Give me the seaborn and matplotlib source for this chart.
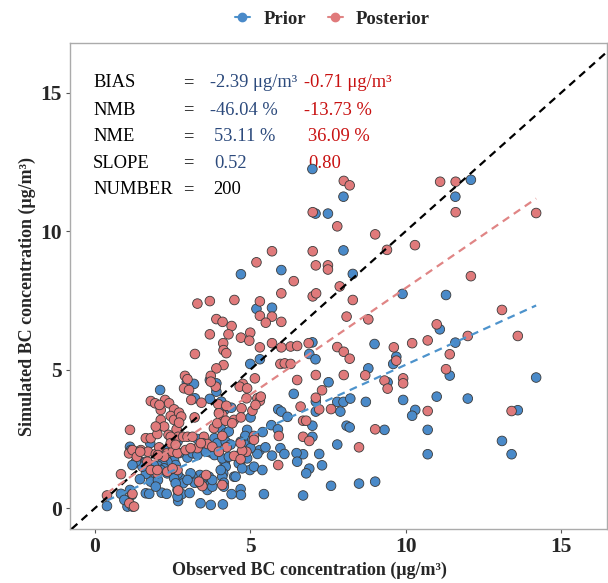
import numpy as np
import pandas as pd
import matplotlib
matplotlib.use("Agg")
import matplotlib.pyplot as plt
import seaborn as sns
from matplotlib.lines import Line2D

# observed vs simulated BC, prior run
prior_obs = [7.0, 8.0, 7.1, 7.5, 8.0, 6.0, 4.7, 8.3, 5.2, 5.7,
             7.0, 12.1, 11.6, 9.9, 11.3, 11.1, 11.6, 9.0, 6.9, 7.1,
             7.52, 7.11, 7.11, 7.8, 8.0, 8.22, 7.9, 8.8, 8.72, 9.7,
             9.6, 9.42, 9.92, 10.31, 10.21, 11.0, 12.0, 11.42, 14.2, 13.61,
             13.1, 13.41, 10.71, 10.71, 9.32, 7.8, 8.1, 8.2, 9.02, 8.5,
             7.6, 7.31, 6.9, 6.8, 7.22, 6.7, 6.7, 7.0, 7.0, 5.0,
             5.31, 6.4, 3.7, 2.96, 3.91, 2.1, 3.22, 3.7, 4.19, 4.0,
             4.39, 5.01, 5.9, 6.0, 5.68, 5.89, 4.9, 4.84, 4.69, 4.9,
             5.07, 5.31, 5.49, 5.23, 4.58, 4.74, 4.9, 4.18, 4.21, 4.13,
             4.48, 4.69, 4.7, 4.99, 5.12, 5.39, 5.44, 4.4, 4.12, 3.73,
             3.4, 2.68, 2.8, 2.15, 2.31, 1.64, 1.75, 1.13, 1.19, 1.05,
             1.21, 0.39, 0.84, 1.13, 1.4, 1.75, 3.85, 3.94, 4.21, 4.05,
             3.62, 3.73, 3.85, 2.98, 3.14, 3.3, 2.71, 2.55, 2.6, 2.33,
             2.17, 2.03, 2.44, 2.33, 2.23, 1.89, 1.8, 1.96, 1.8, 1.64,
             1.64, 1.53, 1.32, 1.21, 3.38, 3.49, 3.73, 3.62, 3.78, 3.14,
             3.21, 3.4, 2.76, 2.84, 4.1, 4.15, 4.53, 2.66, 2.55, 6.49,
             6.51, 5.97, 6.1, 3.91, 1.16, 1.32, 1.78, 2.12, 2.03, 1.96,
             2.66, 3.19, 4.15, 4.07, 2.66, 4.21, 4.31, 4.37, 3.57, 4.1,
             4.31, 5.01, 4.63, 4.74, 4.15, 4.05, 3.67, 3.78, 3.08, 2.98,
             2.66, 2.6, 5.4, 6.2, 2.4, 3.3, 1.45, 0.95, 3.05, 5.7]
prior_sim = [12.25, 11.25, 10.64, 10.64, 9.31, 8.6, 8.45, 8.46, 7.2, 7.24,
             5.99, 11.86, 11.25, 7.74, 7.7, 6.46, 5.98, 5.93, 5.57, 5.38,
             4.55, 3.85, 3.49, 3.84, 3.84, 3.96, 3.49, 5.05, 3.84, 5.47,
             5.21, 4.55, 3.91, 3.55, 3.34, 4.03, 3.96, 4.79, 4.72, 3.54,
             2.43, 1.95, 2.83, 1.95, 2.83, 2.3, 2.98, 2.92, 0.96, 0.89,
             0.81, 1.55, 1.43, 1.26, 1.96, 1.95, 0.46, 2.98, 2.58, 5.21,
             5.38, 4.13, 4.63, 4.55, 4.21, 4.27, 3.97, 3.95, 3.57, 3.45,
             3.63, 3.28, 3.57, 3.49, 3.0, 2.85, 2.83, 2.61, 2.4, 2.29,
             2.49, 2.1, 2.2, 1.96, 1.89, 1.77, 1.8, 1.62, 1.5, 1.26,
             1.14, 0.69, 0.48, 1.38, 1.5, 1.38, 0.51, 0.51, 0.14, 0.12,
             0.18, 0.26, 0.51, 0.56, 0.52, 0.54, 0.52, 0.66, 0.48, 0.06,
             0.06, 0.08, 0.52, 2.22, 1.74, 2.47, 2.53, 2.35, 2.4, 2.89,
             2.1, 2.01, 1.92, 1.83, 1.99, 1.92, 1.99, 1.72, 1.56, 1.68,
             1.62, 1.53, 1.38, 1.26, 1.44, 1.56, 1.38, 1.14, 0.96, 1.24,
             1.68, 1.5, 1.68, 1.56, 1.2, 1.08, 0.9, 0.66, 0.78, 1.14,
             0.92, 0.88, 1.08, 0.9, 1.14, 0.92, 1.14, 1.24, 1.08, 1.99,
             1.68, 2.17, 1.96, 4.51, 2.1, 2.04, 2.35, 1.38, 1.02, 0.78,
             0.42, 4.49, 3.67, 3.85, 2.4, 2.71, 2.77, 2.3, 2.04, 1.8,
             1.86, 2.17, 1.62, 1.44, 0.78, 1.38, 1.14, 1.02, 1.26, 1.02,
             0.66, 0.9, 2.75, 3.3, 2.2, 2.5, 1.05, 0.3, 0.55, 1.9]

# observed vs simulated BC, posterior run
post_obs = [8.01, 8.2, 7.01, 7.8, 5.7, 7.01, 5.2, 7.11, 7.5, 7.5,
            6.4, 7.88, 3.3, 3.7, 4.49, 5.31, 6.0, 7.01, 7.12, 8.3,
            5.31, 5.7, 5.5, 6.0, 8.1, 3.91, 4.11, 4.4, 3.7, 4.3,
            4.7, 5.0, 4.97, 4.13, 5.7, 6.3, 6.51, 6.88, 7.8, 11.11,
            11.61, 11.61, 14.2, 9.02, 10.3, 9.4, 12.1, 8.8, 11.0, 13.1,
            13.61, 12.0, 10.71, 10.21, 9.62, 8.01, 8.2, 7.11, 8.01, 7.31,
            7.11, 7.22, 7.6, 8.7, 9.7, 9.32, 9.42, 9.92, 9.92, 10.71,
            11.42, 11.3, 13.41, 9.02, 8.5, 6.7, 6.9, 6.7, 6.8, 4.14,
            4.23, 5.31, 6.0, 3.22, 5.97, 6.11, 6.3, 4.14, 3.91, 6.51,
            5.15, 4.76, 4.66, 3.73, 2.9, 2.98, 3.89, 1.8, 1.94, 2.26,
            2.39, 2.55, 3.1, 3.43, 3.97, 4.23, 4.72, 5.07, 4.88, 5.23,
            5.31, 5.34, 4.48, 4.7, 4.1, 5.92, 5.12, 4.88, 4.74, 4.48,
            2.68, 1.21, 1.11, 0.39, 0.84, 1.13, 1.1, 1.21, 1.35, 1.48,
            1.64, 1.8, 1.71, 1.96, 2.07, 2.01, 2.12, 2.23, 2.37, 2.44,
            2.55, 2.63, 2.68, 2.84, 2.98, 3.14, 3.21, 3.51, 3.47, 4.1,
            4.24, 3.83, 3.62, 3.78, 3.3, 3.41, 2.33, 2.23, 2.03, 2.01,
            2.71, 2.78, 2.12, 2.08, 6.62, 5.9, 3.58, 4.1, 1.96,
            2.71, 1.46, 2.5, 2.66, 1.69, 1.8, 2.01, 2.33, 1.26, 2.87,
            3.03, 3.73, 4.9, 3.99, 3.94, 4.21, 4.42, 5.17, 2.44, 2.44,
            2.6, 2.92, 3.08, 3.99, 4.69, 5.12, 4.69, 3.46, 3.35, 2.66, 2.5]
post_sim = [11.82, 11.66, 10.69, 10.18, 9.28, 9.28, 8.88, 8.77, 8.77, 8.62,
            8.2, 8.01, 7.39, 7.48, 7.52, 7.47, 7.76, 7.65, 7.76, 7.52,
            6.95, 6.92, 6.7, 6.73, 6.92, 6.83, 6.73, 6.58, 6.28, 6.28,
            6.16, 6.34, 6.05, 5.96, 5.96, 5.84, 5.86, 5.96, 5.82, 11.79,
            11.79, 10.69, 10.66, 9.89, 9.5, 9.33, 8.38, 6.82, 6.64, 7.16,
            6.22, 6.22, 6.06, 5.96, 5.81, 5.65, 5.4, 4.81, 4.81, 4.26,
            3.99, 3.57, 3.58, 4.8, 5.33, 4.61, 4.32, 4.69, 4.51, 3.51,
            5.56, 5.02, 3.51, 2.85, 2.2, 2.58, 2.43, 3.16, 3.16, 5.71,
            5.6, 5.81, 5.81, 5.57, 5.21, 5.23, 5.21, 5.17, 5.05, 4.63,
            4.69, 4.49, 4.39, 4.78, 4.78, 4.66, 4.39, 3.87, 3.79, 3.91,
            3.79, 3.57, 3.91, 3.81, 3.76, 3.7, 3.61, 3.52, 3.97, 3.97,
            3.88, 4.03, 3.19, 3.28, 3.37, 2.61, 2.61, 2.04, 2.08, 1.89,
            0.64, 0.52, 0.18, 0.46, 1.23, 2.83, 1.98, 2.1, 1.86, 2.1,
            2.53, 2.53, 2.04, 1.96, 2.2, 2.68, 3.19, 2.95, 2.65, 3.33,
            3.19, 2.85, 2.58, 2.58, 2.58, 2.58, 3.28, 2.58, 2.35, 2.61,
            2.2, 2.89, 2.32, 2.22, 2.17, 2.35, 1.99, 1.86, 1.92, 1.26,
            3.45, 3.31, 3.55, 3.73, 3.67, 1.56, 1.2, 0.84, 2.95,
            3.09, 2.04, 2.04, 1.99, 1.68, 1.38, 1.38, 1.32, 0.06, 4.33,
            4.27, 4.57, 4.33, 3.43, 3.07, 3.16, 3.07, 3.73, 2.58, 2.35,
            2.29, 2.1, 2.17, 2.04, 2.35, 2.47, 1.77, 0.8, 0.96, 1.38, 1.44]

assert len(prior_obs) == len(prior_sim)
assert len(post_obs) == len(post_sim)

# fitted lines as drawn in the figure
fit_slope = {"Prior": 0.51, "Posterior": 0.77}
fit_icpt = {"Prior": 0.08, "Posterior": 0.25}

stat_names = ["BIAS", "NMB", "NME", "SLOPE", "NUMBER"]
prior_stats = ["-2.39 μg/m³", "-46.04 %", "53.11 %", "0.52", "200"]
post_stats = ["-0.71 μg/m³", "-13.73 %", "36.09 %", "0.80", ""]

pt_colors = {"Prior": "#4a8ac9", "Posterior": "#e07a7b"}
ln_colors = {"Prior": "#4d93cc", "Posterior": "#e08585"}
txt_colors = {"Prior": "#2c4a7c", "Posterior": "#c81010"}

sns.set_theme(style="white")
plt.rcParams["font.family"] = ["Liberation Serif", "DejaVu Serif"]

df = pd.DataFrame({
    "obs": prior_obs + post_obs,
    "sim": prior_sim + post_sim,
    "run": ["Prior"] * len(prior_obs) + ["Posterior"] * len(post_obs),
})

fig = plt.figure(figsize=(6.08, 5.83), dpi=100)
ax = fig.add_axes([70 / 608, 1 - 529 / 583, 537 / 608, 486 / 583])

sns.scatterplot(data=df, x="obs", y="sim", hue="run", palette=pt_colors,
                s=48, edgecolor="#3a3a3a", linewidth=0.6, legend=False,
                ax=ax, zorder=3)

# 1:1 line
ax.axline((0, 0), slope=1, color="black", lw=1.6, ls=(0, (3.5, 2.5)), zorder=4)

# regression lines
for run, xs in [("Prior", prior_obs), ("Posterior", post_obs)]:
    xx = np.array([min(xs), max(xs)])
    ax.plot(xx, fit_icpt[run] + fit_slope[run] * xx, color=ln_colors[run],
            lw=1.6, ls=(0, (3.5, 2.5)), zorder=4)

ax.set_xlim(-0.8, 16.48)
ax.set_ylim(-0.75, 16.8)
ax.set_xticks([0, 5, 10, 15])
ax.set_yticks([0, 5, 10, 15])
ax.tick_params(axis="both", which="major", length=3, width=0.8, color="#555555",
               labelsize=15.5, pad=3, bottom=True, left=True)
for lab in ax.get_xticklabels() + ax.get_yticklabels():
    lab.set_fontweight("bold")
for sp in ax.spines.values():
    sp.set_color("#ababab")
    sp.set_linewidth(1.0)

ax.set_xlabel("Observed BC concentration (μg/m³)", fontsize=13, fontweight="bold")
ax.xaxis.set_label_coords(0.445, -0.068)
ax.set_ylabel("Simulated BC concentration (μg/m³)", fontsize=13, fontweight="bold")
ax.yaxis.set_label_coords(-0.063, 0.479)

# statistics block
row_y = [0.918, 0.862, 0.807, 0.753, 0.698]
prior_x = [0.261, 0.261, 0.268, 0.268, 0.266]
post_x = [0.436, 0.436, 0.443, 0.443, 0.443]
for i, name in enumerate(stat_names):
    ax.text(0.043, row_y[i], name, transform=ax.transAxes, fontsize=13.3,
            va="center", ha="left", color="black", zorder=2)
    ax.text(0.210, row_y[i], "=", transform=ax.transAxes, fontsize=13.3,
            va="center", ha="left", color="black", zorder=2)
    ax.text(prior_x[i], row_y[i], prior_stats[i], transform=ax.transAxes, fontsize=13.3,
            va="center", ha="left",
            color=txt_colors["Prior"] if name != "NUMBER" else "black", zorder=2)
    ax.text(post_x[i], row_y[i], post_stats[i], transform=ax.transAxes, fontsize=13.3,
            va="center", ha="left", color=txt_colors["Posterior"], zorder=2)

handles = [Line2D([0], [0], color=ln_colors[r], lw=1.5, marker="o", markersize=6,
                  markerfacecolor=pt_colors[r], markeredgecolor=pt_colors[r])
           for r in ["Prior", "Posterior"]]
fig.legend(handles, ["Prior", "Posterior"], loc="center", bbox_to_anchor=(0.547, 0.967),
           ncol=2, frameon=False, handlelength=0.8, handletextpad=0.72,
           columnspacing=1.15, prop={"weight": "bold", "size": 13.5})

fig.savefig("out.png", dpi=100)
